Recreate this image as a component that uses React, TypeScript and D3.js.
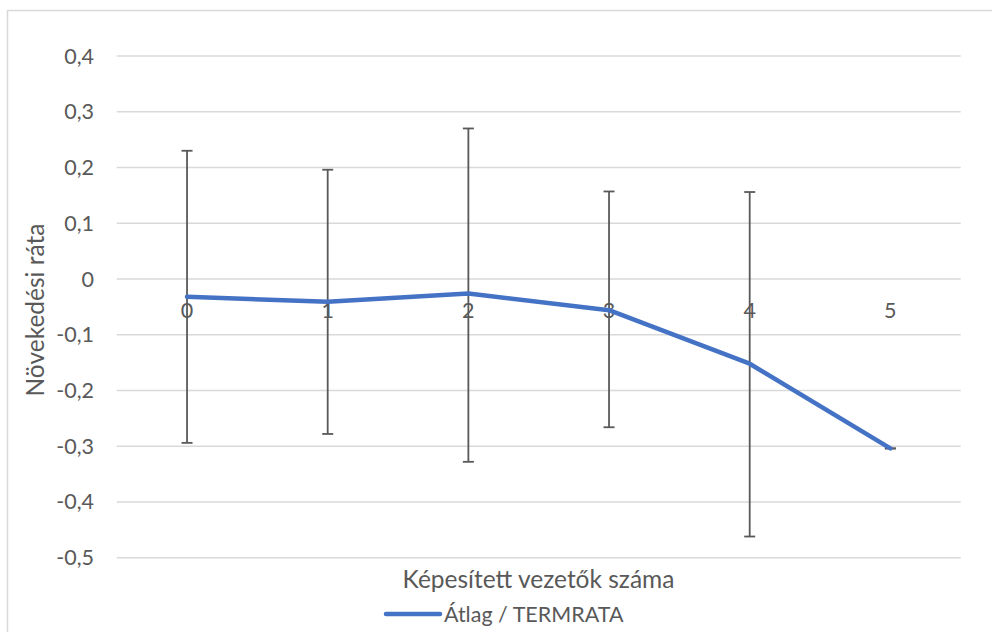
import React from "react";
import * as d3 from "d3";

const categories = ["0", "1", "2", "3", "4", "5"];
const meanValues = [-0.032, -0.041, -0.026, -0.056, -0.152, -0.304];
const upperValues = [0.23, 0.196, 0.27, 0.157, 0.156, -0.304];
const lowerValues = [-0.294, -0.278, -0.328, -0.266, -0.462, -0.304];
const yTicks = [0.4, 0.3, 0.2, 0.1, 0, -0.1, -0.2, -0.3, -0.4, -0.5];

const seriesName = "Átlag / TERMRATA";
const xTitle = "Képesített vezetők száma";
const yTitle = "Növekedési ráta";

const W = 992;
const H = 632;
const FONT = "Lato, 'Noto Sans', sans-serif";
const TEXT = "#595959";
const FS = 21.5;
const FS_TITLE = 24.5;

export default function App() {
  const left = 116.7;
  const right = 960.7;
  const x = d3.scaleBand<string>().domain(categories).range([left, right]).padding(0);
  const y = d3.scaleLinear().domain([-0.5, 0.4]).range([557.7, 56]);
  const cx = (i: number) => (x(categories[i]) as number) + x.bandwidth() / 2;
  const line = d3
    .line<number>()
    .x((_, i) => cx(i))
    .y((d) => y(d));
  const fmt = (v: number) => (Math.abs(v) < 1e-9 ? "0" : d3.format(".1f")(v).replace(".", ",").replace("−", "-"));
  const capHalf = 5.5;

  return (
    <svg width={W} height={H} style={{ position: "absolute", left: 0, top: 0 }}>
      <rect x={0} y={0} width={W} height={H} fill="#fff" />
      <rect x={7.5} y={10.5} width={W + 10} height={H + 10} fill="#fff" stroke="#d9d9d9" strokeWidth={1.5} />
      {yTicks.map((t) => (
        <g key={t}>
          <line x1={left} x2={right} y1={y(t)} y2={y(t)} stroke="#d9d9d9" strokeWidth={1.5} />
          <text x={94} y={y(t)} dy="0.35em" textAnchor="end" fontFamily={FONT} fontSize={FS} fill={TEXT}>
            {fmt(t)}
          </text>
        </g>
      ))}
      {categories.map((c, i) => (
        <text key={c} x={cx(i)} y={y(0) + 31} dy="0.35em" textAnchor="middle" fontFamily={FONT} fontSize={FS} fill={TEXT}>
          {c}
        </text>
      ))}
      {categories.map((c, i) => (
        <g key={"e" + c} stroke="#595959" strokeWidth={1.8}>
          <line x1={cx(i)} x2={cx(i)} y1={y(upperValues[i])} y2={y(lowerValues[i])} />
          <line x1={cx(i) - capHalf} x2={cx(i) + capHalf} y1={y(upperValues[i])} y2={y(upperValues[i])} />
          <line x1={cx(i) - capHalf} x2={cx(i) + capHalf} y1={y(lowerValues[i])} y2={y(lowerValues[i])} />
        </g>
      ))}
      <path d={line(meanValues) || ""} fill="none" stroke="#4472C4" strokeWidth={4.5} strokeLinejoin="round" strokeLinecap="round" />
      <text x={538.5} y={579} dy="0.35em" textAnchor="middle" fontFamily={FONT} fontSize={FS_TITLE} fill={TEXT}>
        {xTitle}
      </text>
      <text
        transform={`translate(35,310) rotate(-90)`}
        dy="0.35em"
        textAnchor="middle"
        fontFamily={FONT}
        fontSize={FS_TITLE}
        fill={TEXT}
      >
        {yTitle}
      </text>
      <line x1={386} x2={440} y1={614} y2={614} stroke="#4472C4" strokeWidth={4.5} strokeLinecap="round" />
      <text x={444} y={614} dy="0.35em" fontFamily={FONT} fontSize={FS} fill={TEXT}>
        {seriesName}
      </text>
    </svg>
  );
}
